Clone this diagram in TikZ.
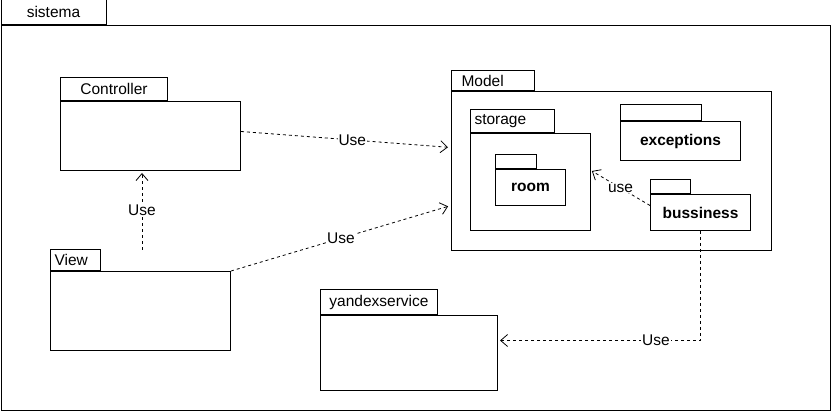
\documentclass[tikz,border=0pt]{standalone}
\usepackage{fontspec}
\setmainfont{Liberation Sans}
\usepackage{tikz}
\usetikzlibrary{arrows.meta}

\tikzset{
  pkgbody/.style={draw, line width=1pt, fill=white, inner sep=0pt, anchor=north west},
  pkgtab/.style={draw, line width=1pt, fill=white, inner sep=0pt, anchor=south west},
  usearrow/.style={draw, line width=0.8pt, dash pattern=on 3pt off 3pt, -{Straight Barb[length=7pt,width=12pt]}},
  uselabel/.style={fill=white, inner sep=1pt}
}

\begin{document}
\begin{tikzpicture}[x=1pt, y=-1pt, font=\fontsize{15.5}{18}\selectfont]
        \useasboundingbox (0,0) rectangle (831,411);
        \node [pkgbody, minimum width=829, minimum height=385] (sistema) at (0.5,25) {};          %outer
        \node [pkgtab, minimum width=105, minimum height=25] (sistematab) at (sistema.north west) {sistema};

        \node [pkgbody, minimum width=180, minimum height=69] (controller) at (60,101) {};        %Controller
        \node [pkgtab, minimum width=107, minimum height=23] (controllertab) at (controller.north west) {Controller};

        \node [pkgbody, minimum width=180, minimum height=79] (view) at (50,271) {};              %View
        \node [pkgtab, minimum height=21, text width=42pt, inner xsep=4pt, align=left] (viewtab) at (view.north west) {View};

        \node [pkgbody, minimum width=177, minimum height=75] (yandex) at (320,315) {};           %yandexservice
        \node [pkgtab, minimum width=117, minimum height=25] (yandextab) at (yandex.north west) {yandexservice};

        \node [pkgbody, minimum width=320, minimum height=159] (model) at (451,91) {};            %Model
        \node [pkgtab, minimum height=20, text width=63pt, inner xsep=10pt, align=left] (modeltab) at (model.north west) {Model};

        \node [pkgbody, minimum width=120, minimum height=97] (storage) at (470,133) {};          %storage
        \node [pkgtab, minimum height=23, text width=76pt, inner xsep=4pt, align=left] (storagetab) at (storage.north west) {storage};

        \node [pkgbody, minimum width=70, minimum height=36] (room) at (495,169) {\bfseries room};
        \node [pkgtab, minimum width=41, minimum height=14] (roomtab) at (room.north west) {};

        \node [pkgbody, minimum width=120, minimum height=39] (exceptions) at (620,121) {\bfseries exceptions};
        \node [pkgtab, minimum width=81, minimum height=16] (exceptionstab) at (exceptions.north west) {};

        \node [pkgbody, minimum width=100, minimum height=36] (bussiness) at (650,194) {\bfseries bussiness};
        \node [pkgtab, minimum width=40, minimum height=14] (bussinesstab) at (bussiness.north west) {};

        % dependencies
        \draw [usearrow, shorten >=3pt] ([yshift=4.5pt]controller.east) -- node [uselabel, pos=0.53] {Use} ([yshift=23.5pt]model.west);
        \draw [usearrow, shorten >=3pt] (view.north east) -- node [uselabel, pos=0.5] {Use} ([yshift=-34.5pt]model.west);
        \draw [usearrow, shorten >=2pt] ([xshift=92pt, yshift=21pt]view.north west) -- node [uselabel, pos=0.5] {Use} ([xshift=82pt]controller.south west);
        \draw [usearrow, shorten >=1pt] ([yshift=7pt]bussiness.west) -- node [uselabel, pos=0.5] {use} ([yshift=11.5pt]storage.east);
        \draw [usearrow, shorten >=2pt] (bussiness.south) |- node [uselabel, pos=0.61] {Use} ([yshift=12.5pt]yandex.east);
\end{tikzpicture}
\end{document}
